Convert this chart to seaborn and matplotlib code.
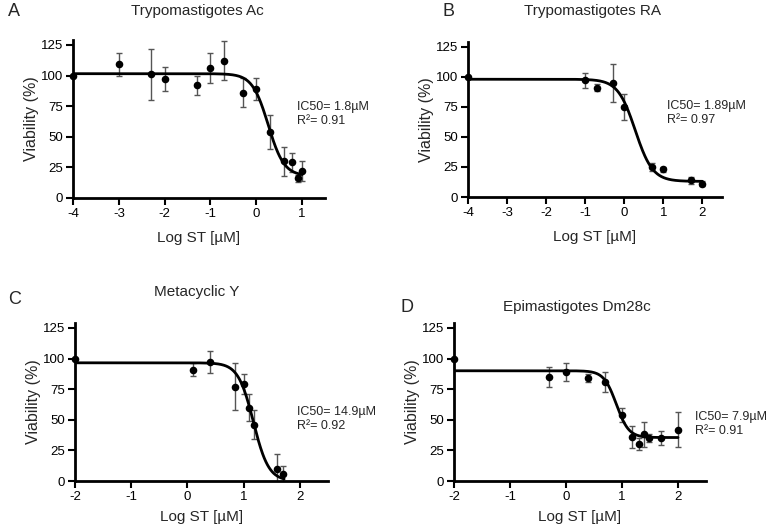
import numpy as np
import pandas as pd
import matplotlib
matplotlib.use("Agg")
import matplotlib.pyplot as plt
import seaborn as sns

sns.set_theme(style="ticks")
plt.rcParams['font.family'] = ['Liberation Sans', 'DejaVu Sans']

# ---- data ----
titles = ["Trypomastigotes Ac", "Trypomastigotes RA", "Metacyclic Y", "Epimastigotes Dm28c"]
letters = ["A", "B", "C", "D"]
ic50_text = ["IC50= 1.8\u00b5M", "IC50= 1.89\u00b5M", "IC50= 14.9\u00b5M", "IC50= 7.9\u00b5M"]
r2_text = ["R\u00b2= 0.91", "R\u00b2= 0.97", "R\u00b2= 0.92", "R\u00b2= 0.91"]

a_x = [-4, -3, -2.3, -2, -1.3, -1, -0.7, -0.3, 0, 0.3, 0.6, 0.78, 0.9, 1.0]
a_y = [100, 109, 101, 97, 92, 106, 112, 86, 89, 54, 30, 29, 16, 22]
a_e = [0, 9, 21, 10, 8, 12, 16, 12, 9, 14, 12, 8, 3, 8]

b_x = [-4, -1, -0.7, -0.3, 0, 0.7, 1.0, 1.7, 2.0]
b_y = [100, 97, 91, 95, 75, 25, 23, 14, 11]
b_e = [0, 6, 3, 16, 11, 3, 2, 3, 2]

c_x = [-2, 0.1, 0.4, 0.85, 1.0, 1.1, 1.18, 1.6, 1.7]
c_y = [100, 91, 97, 77, 79, 60, 46, 10, 6]
c_e = [0, 5, 9, 19, 8, 11, 12, 12, 6]

d_x = [-2, -0.3, 0, 0.4, 0.7, 1.0, 1.18, 1.3, 1.4, 1.48, 1.7, 2.0]
d_y = [100, 85, 89, 84, 81, 54, 36, 30, 38, 35, 35, 42]
d_e = [0, 8, 7, 3, 8, 6, 9, 5, 10, 3, 6, 14]

# fitted 4-parameter logistic parameters (top, bottom, logIC50, hill)
fit_top = [101.5, 98, 96.5, 90]
fit_bottom = [18, 13, 0, 35.5]
fit_logic50 = [0.26, 0.28, 1.173, 0.898]
fit_hill = [2.5, 1.95, 3.2, 3.9]
fit_range = [(-4, 1.0), (-4, 2.0), (-2, 1.72), (-2, 2.0)]

xlims = [(-4, 1.5), (-4, 2.5), (-2, 2.5), (-2, 2.5)]
xticks = [[-4, -3, -2, -1, 0, 1], [-4, -3, -2, -1, 0, 1, 2], [-2, -1, 0, 1, 2], [-2, -1, 0, 1, 2]]
yticks = [0, 25, 50, 75, 100, 125]

series = [(a_x, a_y, a_e), (b_x, b_y, b_e), (c_x, c_y, c_e), (d_x, d_y, d_e)]

W, H = 767, 527
fig = plt.figure(figsize=(W / 100, H / 100), dpi=100)

# axes boxes in pixels: left, right, top(y), bottom(y)
boxes = [(73, 325, 40, 198), (468, 722, 42, 197), (75, 328, 323, 481), (454, 706, 323, 481)]
title_pos = [(197, 11), (592, 11), (197, 292), (577, 307)]
letter_pos = [(8, 11), (442, 11), (8, 300), (400, 307)]
text_pos = [(297, 107), (667, 106), (297, 412), (695, 417)]
xlabel_pad = [8, 8, 5.5, 5.5]

for i in range(4):
    l, r, t, b = boxes[i]
    ax = fig.add_axes([l / W, 1 - b / H, (r - l) / W, (b - t) / H])
    x, y, e = series[i]
    df = pd.DataFrame({"x": x, "y": y, "e": e})
    x0, x1 = fit_range[i]
    xs = np.linspace(x0, x1, 400)
    ys = fit_bottom[i] + (fit_top[i] - fit_bottom[i]) / (1 + 10 ** ((xs - fit_logic50[i]) * fit_hill[i]))
    sns.lineplot(x=xs, y=ys, ax=ax, color="black", lw=2.0, zorder=3)
    ax.errorbar(df["x"], df["y"], yerr=df["e"], fmt="none", ecolor="#555555",
                elinewidth=1.0, capsize=2.5, capthick=1.0, zorder=2)
    sns.scatterplot(data=df, x="x", y="y", ax=ax, color="black", s=30,
                    edgecolor="black", linewidth=0, zorder=4, clip_on=False)
    ax.set_xlim(*xlims[i])
    ax.set_ylim(0, 129)
    ax.set_xticks(xticks[i])
    ax.set_yticks(yticks)
    ax.set_xticklabels([str(v) for v in xticks[i]])
    for s in ["top", "right"]:
        ax.spines[s].set_visible(False)
    for s in ["left", "bottom"]:
        ax.spines[s].set_linewidth(2.0)
        ax.spines[s].set_color("black")
    ax.tick_params(axis="both", direction="out", length=5, width=1.5, colors="black",
                   labelsize=9.5, pad=2)
    ax.set_xlabel("Log ST [\u00b5M]", fontsize=11, labelpad=xlabel_pad[i])
    ax.set_ylabel("Viability (%)", fontsize=11.5, labelpad=1.5)
    ax.grid(False)

    tx, ty = title_pos[i]
    fig.text(tx / W, 1 - ty / H, titles[i], ha="center", va="center", fontsize=11)
    lx, ly = letter_pos[i]
    fig.text(lx / W, 1 - ly / H, letters[i], ha="left", va="center", fontsize=13)
    px, py = text_pos[i]
    fig.text(px / W, 1 - py / H, ic50_text[i], ha="left", va="center", fontsize=9)
    fig.text(px / W, 1 - (py + 14) / H, r2_text[i], ha="left", va="center", fontsize=9)

fig.savefig("out.png", dpi=100)
